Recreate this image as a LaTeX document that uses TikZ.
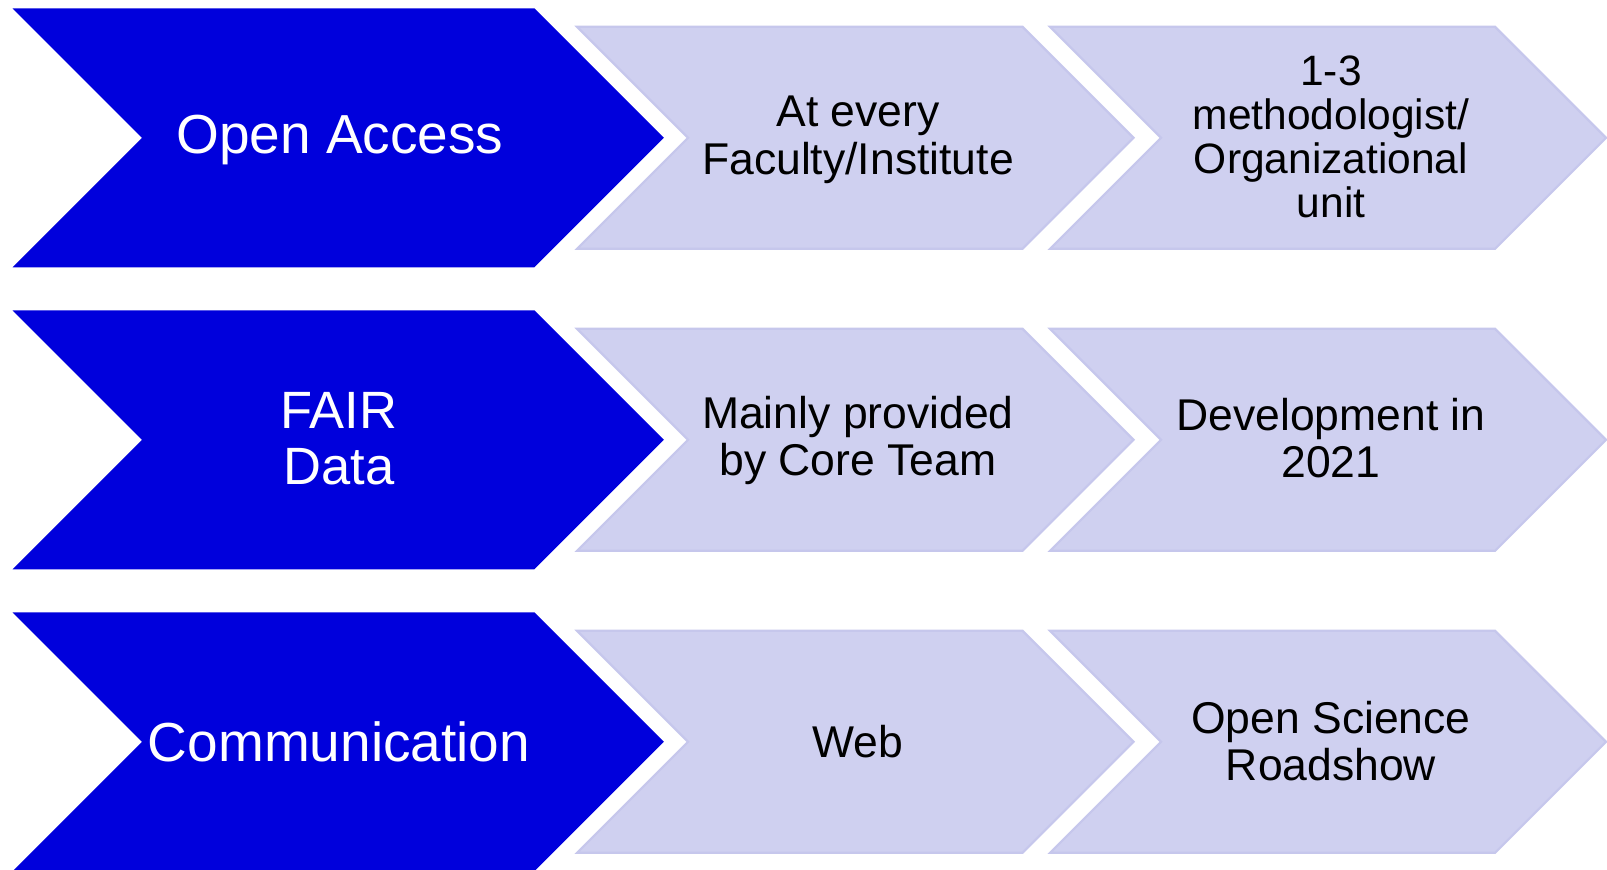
\documentclass[tikz,border=0pt]{standalone}
\usepackage{fontspec}
\setmainfont{Liberation Sans}
\definecolor{darkchev}{RGB}{0,0,220}
\definecolor{lightchev}{RGB}{207,208,240}
\definecolor{lightedge}{RGB}{198,199,236}
\tikzset{
  darkshape/.style={fill=darkchev},
  lightshape/.style={fill=lightchev, draw=lightedge, line width=2.2pt, line join=miter},
  darktext/.style={text=white, align=center, font=\fontsize{55}{58}\selectfont, inner sep=0pt},
  lighttext/.style={text=black, align=center, font=\fontsize{44.5}{47.4}\selectfont, inner sep=0pt},
}
\newcommand\mychev[5]{% style, x0, x1, center y, half height
  \path[#1] (#2,#4-#5) -- (#3,#4-#5) -- (#3+#5,#4) -- (#3,#4+#5) -- (#2,#4+#5) -- (#2+#5,#4) -- cycle;
}
\begin{document}
\begin{tikzpicture}[x=1pt,y=-1pt]
\useasboundingbox (0,0) rectangle (1607,870);
\foreach \r in {0,1,2}{
  \pgfmathsetmacro{\cy}{137.8+302*\r}
  \mychev{darkshape}{12.5}{534.4}{\cy}{129.5}
  \mychev{lightshape}{577}{1022.5}{\cy}{111}
  \mychev{lightshape}{1050}{1495}{\cy}{111}
}
% row 1
\node[darktext] (d1) at (340,140.5) {Open Access};
\node[lighttext] (a1) at (858,140) {At every\\Faculty/Institute};
\node[lighttext, font=\fontsize{42.5}{44}\selectfont] (b1) at (1331,137) {1-3\\methodologist/\\Organizational\\unit};
% row 2
\node[darktext, font=\fontsize{52.5}{56}\selectfont] (d2) at (339,438.5) {FAIR\\Data};
\node[lighttext] (a2) at (858,440.5) {Mainly provided\\by Core Team};
\node[lighttext] (b2) at (1331,438) {Development in\\2021};
% row 3
\node[darktext] (d3) at (339,741.8) {Communication};
\node[lighttext] (a3) at (858,741.8) {Web};
\node[lighttext] (b3) at (1331,741) {Open Science\\Roadshow};
\end{tikzpicture}
\end{document}
